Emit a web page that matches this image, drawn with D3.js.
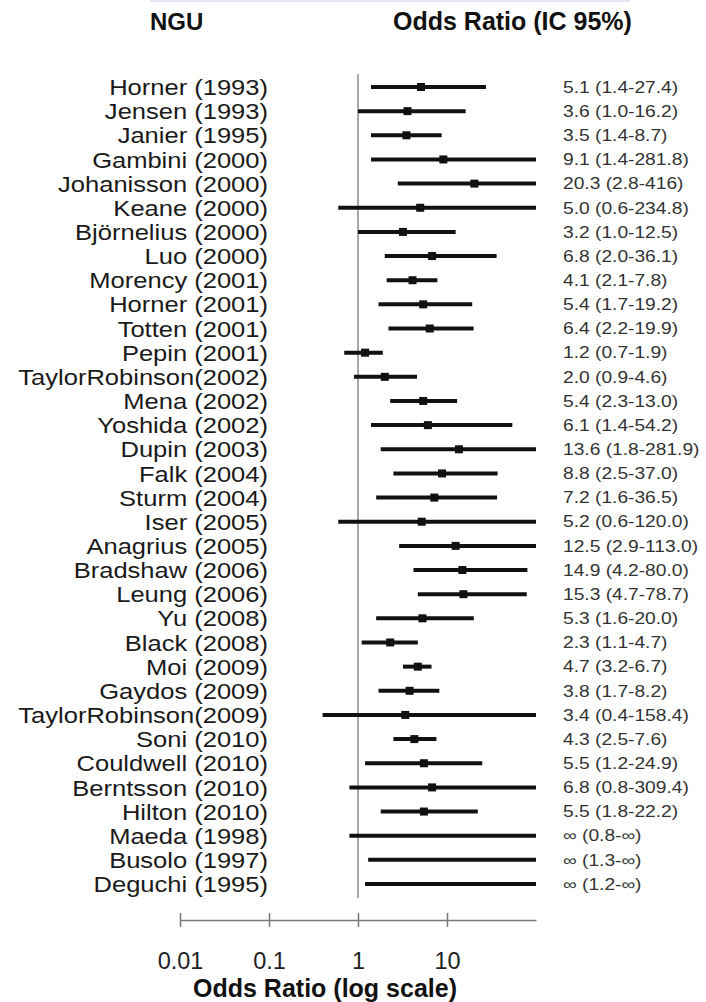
<!DOCTYPE html>
<html>
<head>
<meta charset="utf-8">
<script src="https://cdn.jsdelivr.net/npm/d3@7"></script>
<style>
  html, body { margin: 0; padding: 0; background: #fff; }
  svg { display: block; }
</style>
</head>
<body>
<svg id="chart" width="706" height="1002"></svg>
<script>
// Studies (NGU), odds ratios and 95% confidence intervals, as reported
const studies = [
  "Horner (1993)", "Jensen (1993)", "Janier (1995)", "Gambini (2000)",
  "Johanisson (2000)", "Keane (2000)", "Björnelius (2000)", "Luo (2000)",
  "Morency (2001)", "Horner (2001)", "Totten (2001)", "Pepin (2001)",
  "TaylorRobinson(2002)", "Mena (2002)", "Yoshida (2002)", "Dupin (2003)",
  "Falk (2004)", "Sturm (2004)", "Iser (2005)", "Anagrius (2005)",
  "Bradshaw (2006)", "Leung (2006)", "Yu (2008)", "Black (2008)",
  "Moi (2009)", "Gaydos (2009)", "TaylorRobinson(2009)", "Soni (2010)",
  "Couldwell (2010)", "Berntsson (2010)", "Hilton (2010)", "Maeda (1998)",
  "Busolo (1997)", "Deguchi (1995)"
];
const oddsRatio = [
  "5.1", "3.6", "3.5", "9.1", "20.3", "5.0", "3.2", "6.8", "4.1", "5.4", "6.4", "1.2",
  "2.0", "5.4", "6.1", "13.6", "8.8", "7.2", "5.2", "12.5", "14.9", "15.3", "5.3", "2.3",
  "4.7", "3.8", "3.4", "4.3", "5.5", "6.8", "5.5", "∞", "∞", "∞"
];
const ciLower = [
  "1.4", "1.0", "1.4", "1.4", "2.8", "0.6", "1.0", "2.0", "2.1", "1.7", "2.2", "0.7",
  "0.9", "2.3", "1.4", "1.8", "2.5", "1.6", "0.6", "2.9", "4.2", "4.7", "1.6", "1.1",
  "3.2", "1.7", "0.4", "2.5", "1.2", "0.8", "1.8", "0.8", "1.3", "1.2"
];
const ciUpper = [
  "27.4", "16.2", "8.7", "281.8", "416", "234.8", "12.5", "36.1", "7.8", "19.2", "19.9", "1.9",
  "4.6", "13.0", "54.2", "281.9", "37.0", "36.5", "120.0", "113.0", "80.0", "78.7", "20.0", "4.7",
  "6.7", "8.2", "158.4", "7.6", "24.9", "309.4", "22.2", "∞", "∞", "∞"
];
const tickValues = [0.01, 0.1, 1, 10];
const tickLabels = ["0.01", "0.1", "1", "10"];

const num = s => s === "∞" ? Infinity : +s;
const rows = studies.map((s, i) => ({
  study: s,
  or: num(oddsRatio[i]), lo: num(ciLower[i]), hi: num(ciUpper[i]),
  text: `${oddsRatio[i]} (${ciLower[i]}-${ciUpper[i]})`
}));

const svg = d3.select("#chart");
const font = "'Liberation Sans', Arial, Helvetica, sans-serif";

const x = d3.scaleLog().domain([0.01, 100]).range([180, 536]);
const xMax = x.domain()[1];
const clip = v => Math.min(v, xMax);
const y = d3.scalePoint().domain(studies).range([87, 884]);

// faint rule along the top edge
svg.append("line")
  .attr("x1", 150).attr("x2", 630).attr("y1", 1).attr("y2", 1)
  .attr("stroke", "#e4e4f4").attr("stroke-width", 2);

// column headers
svg.append("text")
  .attr("x", 150).attr("y", 30)
  .attr("font-family", font).attr("font-weight", "bold").attr("font-size", 24)
  .attr("fill", "#111").text("NGU");
svg.append("text")
  .attr("x", 393).attr("y", 30)
  .attr("font-family", font).attr("font-weight", "bold").attr("font-size", 25)
  .attr("fill", "#111").text("Odds Ratio (IC 95%)");

// line of no effect (OR = 1)
svg.append("line")
  .attr("x1", x(1)).attr("x2", x(1))
  .attr("y1", 74).attr("y2", 898)
  .attr("stroke", "#8a8a8a").attr("stroke-width", 1.5);

// study labels (slightly widened type)
svg.append("g").selectAll("text")
  .data(rows).join("text")
  .attr("transform", d => `translate(268,${y(d.study)}) scale(1.135,1)`)
  .attr("dy", "0.36em")
  .attr("text-anchor", "end")
  .attr("font-family", font).attr("font-size", 22.5)
  .attr("fill", "#1a1a1a")
  .text(d => d.study);

// confidence intervals
const ci = svg.append("g");
ci.selectAll("line")
  .data(rows).join("line")
  .attr("x1", d => x(clip(d.lo))).attr("x2", d => x(clip(d.hi)))
  .attr("y1", d => y(d.study)).attr("y2", d => y(d.study))
  .attr("stroke", "#111").attr("stroke-width", 4);

// point estimates
const m = 8;
ci.selectAll("rect")
  .data(rows.filter(d => isFinite(d.or))).join("rect")
  .attr("x", d => x(d.or) - m / 2).attr("y", d => y(d.study) - m / 2)
  .attr("width", m).attr("height", m)
  .attr("fill", "#111");

// OR (CI) values
svg.append("g").selectAll("text")
  .data(rows).join("text")
  .attr("transform", d => `translate(563,${y(d.study)}) scale(1.2,1)`)
  .attr("dy", "0.36em")
  .attr("font-family", font).attr("font-size", 16)
  .attr("fill", "#333")
  .text(d => d.text);

// log-scale axis
const axisY = 920;
const axis = svg.append("g")
  .attr("transform", `translate(0,${axisY})`)
  .call(d3.axisBottom(x).tickValues(tickValues)
    .tickFormat((d, i) => tickLabels[i]).tickSizeOuter(0).tickSizeInner(7));
axis.select(".domain").attr("stroke", "#777").attr("stroke-width", 1.5);
axis.selectAll(".tick line").attr("y1", -7).attr("y2", 7)
  .attr("stroke", "#777").attr("stroke-width", 1.5);
axis.selectAll(".tick text")
  .attr("y", 49).attr("dy", 0)
  .attr("font-family", font).attr("font-size", 23.5)
  .attr("fill", "#222");

svg.append("text")
  .attr("x", 325).attr("y", 997)
  .attr("text-anchor", "middle")
  .attr("font-family", font).attr("font-weight", "bold").attr("font-size", 25)
  .attr("fill", "#111").text("Odds Ratio (log scale)");
</script>
</body>
</html>
